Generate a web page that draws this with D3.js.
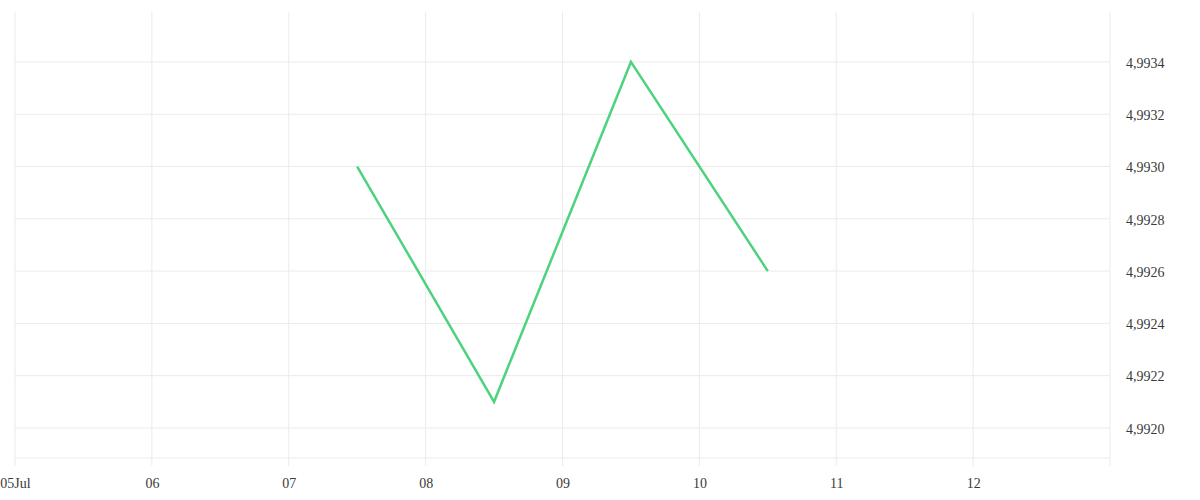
<!DOCTYPE html>
<html><head><meta charset="utf-8">
<script src="https://cdn.jsdelivr.net/npm/d3@7"></script>
<style>body{margin:0;background:#fff}svg{display:block}text{font-family:"Liberation Serif","DejaVu Serif",serif;font-size:14px;fill:#3a3a3a}</style>
</head><body><svg id="c" width="1200" height="500"></svg>
<script>
const dates = ["2023-07-07T12:00","2023-07-08T12:00","2023-07-09T12:00","2023-07-10T12:00"];
const values = [4.9930, 4.9921, 4.9934, 4.9926];
const yTicks = [4.9920, 4.9922, 4.9924, 4.9926, 4.9928, 4.9930, 4.9932, 4.9934];
const xTickDates = ["2023-07-05","2023-07-06","2023-07-07","2023-07-08","2023-07-09","2023-07-10","2023-07-11","2023-07-12"];
const xTickLabels = ["05Jul","06","07","08","09","10","11","12"];

const svg = d3.select("#c");
const L=15, R=1110, T=12, B=458;
const parse = d3.timeParse("%Y-%m-%dT%H:%M"), pd = d3.timeParse("%Y-%m-%d");
const x = d3.scaleTime().domain([pd("2023-07-05"), pd("2023-07-13")]).range([L,R]);
const y = d3.scaleLinear().domain([4.991885, 4.993591]).range([B,T]);
const grid="#ebebeb";
const g = svg.append("g");
xTickDates.forEach(d=>{
  const xx=x(pd(d));
  g.append("line").attr("x1",xx).attr("x2",xx).attr("y1",T).attr("y2",466).attr("stroke",grid);
});
g.append("line").attr("x1",R).attr("x2",R).attr("y1",T).attr("y2",466).attr("stroke",grid);
yTicks.forEach(v=>{
  g.append("line").attr("x1",L).attr("x2",R).attr("y1",y(v)).attr("y2",y(v)).attr("stroke",grid);
});
g.append("line").attr("x1",L).attr("x2",R).attr("y1",B).attr("y2",B).attr("stroke",grid);
const xAxis = d3.axisBottom(x).tickValues(xTickDates.map(pd)).tickFormat((d,i)=>xTickLabels[i]).tickSize(0).tickPadding(0);
const xa = svg.append("g").attr("transform",`translate(0,${B})`).call(xAxis);
xa.select(".domain").remove();
xa.selectAll("text").attr("y",30).attr("dy",null).style("font-size","14px").attr("fill","#3a3a3a");
const yAxis = d3.axisRight(y).tickValues(yTicks).tickFormat(d=>d.toFixed(4).replace(".",",")).tickSize(0).tickPadding(0);
const ya = svg.append("g").attr("transform",`translate(1126,0)`).call(yAxis);
ya.select(".domain").remove();
ya.selectAll("text").attr("x",0).attr("dy","0.38em").style("font-size","14px").attr("fill","#3a3a3a");
const data = dates.map((d,i)=>({d:parse(d),v:values[i]}));
svg.append("path").datum(data).attr("fill","none").attr("stroke","#4dd27e").attr("stroke-width",2.5)
  .attr("d",d3.line().x(d=>x(d.d)).y(d=>y(d.v)));
</script></body></html>
